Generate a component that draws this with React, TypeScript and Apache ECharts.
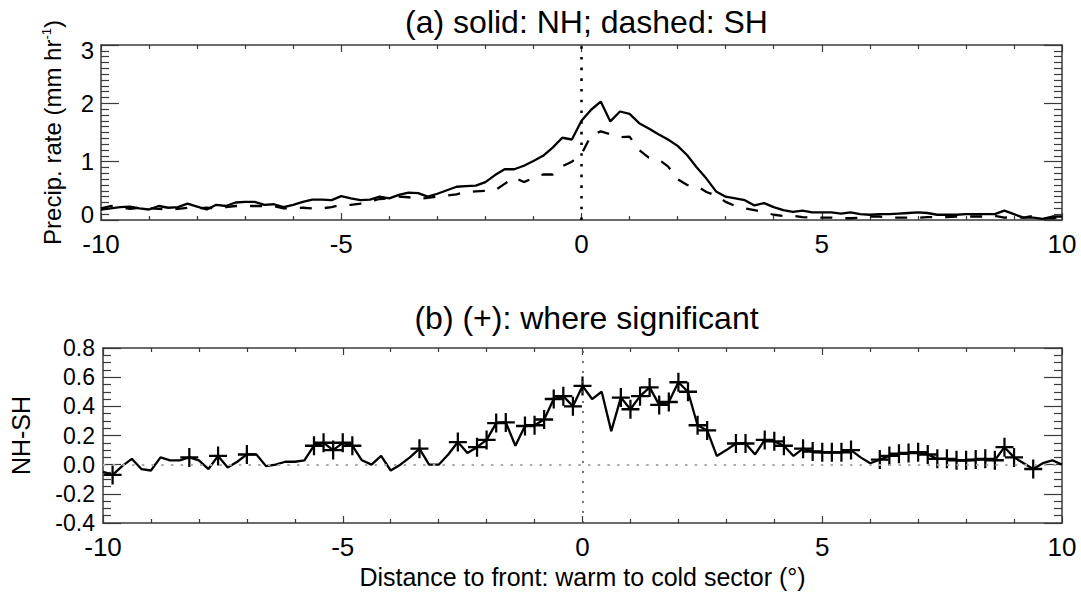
import React, { useEffect, useRef } from "react";
import * as echarts from "echarts";

// Distance to front (degrees), bins every 0.2
const distance = [
  -10, -9.8, -9.6, -9.4, -9.2, -9, -8.8, -8.6, -8.4, -8.2,
  -8, -7.8, -7.6, -7.4, -7.2, -7, -6.8, -6.6, -6.4, -6.2,
  -6, -5.8, -5.6, -5.4, -5.2, -5, -4.8, -4.6, -4.4, -4.2,
  -4, -3.8, -3.6, -3.4, -3.2, -3, -2.8, -2.6, -2.4, -2.2,
  -2, -1.8, -1.6, -1.4, -1.2, -1, -0.8, -0.6, -0.4, -0.2,
  0, 0.2, 0.4, 0.6, 0.8, 1, 1.2, 1.4, 1.6, 1.8,
  2, 2.2, 2.4, 2.6, 2.8, 3, 3.2, 3.4, 3.6, 3.8,
  4, 4.2, 4.4, 4.6, 4.8, 5, 5.2, 5.4, 5.6, 5.8,
  6, 6.2, 6.4, 6.6, 6.8, 7, 7.2, 7.4, 7.6, 7.8,
  8, 8.2, 8.4, 8.6, 8.8, 9, 9.2, 9.4, 9.6, 9.8,
  10,
];

// Precip. rate, NH (solid)
const nhRate = [
  0.18, 0.2, 0.22, 0.23, 0.2, 0.18, 0.24, 0.21, 0.22, 0.28,
  0.23, 0.18, 0.26, 0.24, 0.3, 0.31, 0.31, 0.26, 0.27, 0.22,
  0.26, 0.31, 0.35, 0.35, 0.34, 0.41, 0.37, 0.34, 0.35, 0.4,
  0.37, 0.43, 0.47, 0.46, 0.4, 0.45, 0.51, 0.57, 0.58, 0.59,
  0.65, 0.77, 0.87, 0.87, 0.93, 1.01, 1.1, 1.24, 1.41, 1.38,
  1.7, 1.89, 2.03, 1.69, 1.86, 1.82, 1.66, 1.57, 1.47, 1.38,
  1.27, 1.11, 0.9, 0.71, 0.49, 0.4, 0.37, 0.34, 0.25, 0.29,
  0.22, 0.17, 0.14, 0.16, 0.13, 0.13, 0.13, 0.11, 0.13, 0.1,
  0.09, 0.1, 0.1, 0.11, 0.12, 0.13, 0.12, 0.09, 0.09, 0.09,
  0.1, 0.1, 0.1, 0.1, 0.16, 0.1, 0.04, 0.04, 0.02, 0.06,
  0.06,
];

// Precip. rate, SH (dashed)
const shRate = [
  0.2, 0.24, 0.22, 0.19, 0.21, 0.2, 0.19, 0.18, 0.19, 0.21,
  0.2, 0.21, 0.2, 0.22, 0.24, 0.24, 0.24, 0.24, 0.24, 0.2,
  0.2, 0.21, 0.2, 0.2, 0.22, 0.26, 0.26, 0.28, 0.32, 0.36,
  0.37, 0.4, 0.39, 0.36, 0.38, 0.4, 0.42, 0.44, 0.48, 0.49,
  0.5, 0.51, 0.62, 0.73, 0.65, 0.72, 0.78, 0.78, 0.92, 1.0,
  1.13, 1.45, 1.52, 1.47, 1.42, 1.43, 1.2, 1.07, 1.04, 0.92,
  0.7, 0.6, 0.58, 0.48, 0.42, 0.31, 0.24, 0.2, 0.17, 0.13,
  0.09, 0.07, 0.07, 0.05, 0.04, 0.04, 0.04, 0.03, 0.03, 0.04,
  0.06, 0.06, 0.04, 0.04, 0.04, 0.04, 0.05, 0.05, 0.05, 0.06,
  0.06, 0.06, 0.06, 0.07, 0.04, 0.05, 0.04, 0.07, 0.03, 0.03,
  0.05,
];

// NH - SH difference
const nhMinusSh = [
  -0.05, -0.07, -0.01, 0.04, -0.03, -0.04, 0.05, 0.03, 0.03, 0.05,
  0.03, -0.03, 0.06, -0.02, 0.02, 0.07, 0.07, -0.01, 0.0, 0.02,
  0.02, 0.03, 0.13, 0.15, 0.1, 0.15, 0.13, 0.03, 0.0, 0.06,
  -0.04, 0.0, 0.05, 0.11, 0.0, 0.0, 0.07, 0.155, 0.08, 0.12,
  0.17, 0.285, 0.29, 0.13, 0.265, 0.27, 0.31, 0.45, 0.47, 0.4,
  0.54, 0.45, 0.5, 0.23, 0.46, 0.38, 0.47, 0.53, 0.41, 0.43,
  0.565, 0.5, 0.27, 0.235, 0.06, 0.1, 0.145, 0.145, 0.07, 0.17,
  0.16, 0.13, 0.06, 0.11, 0.09, 0.085, 0.085, 0.085, 0.1, 0.05,
  0.01, 0.035, 0.06, 0.075, 0.08, 0.085, 0.07, 0.04, 0.04, 0.03,
  0.03, 0.035, 0.04, 0.03, 0.12, 0.05, 0.01, -0.03, 0.01, 0.03,
  0.0,
];

// Bins where the difference is significant (+)
const significantAt = [
  -9.8, -8.2, -7.6, -7, -5.6, -5.4, -5.2, -5, -4.8, -3.4,
  -2.6, -2.2, -2, -1.8, -1.6, -1.2, -1, -0.8, -0.6, -0.4,
  -0.2, 0, 0.8, 1, 1.2, 1.4, 1.6, 1.8, 2, 2.2,
  2.4, 2.6, 3.2, 3.4, 3.8, 4, 4.2, 4.6, 4.8, 5,
  5.2, 5.4, 5.6, 6.2, 6.4, 6.6, 6.8, 7, 7.2, 7.4,
  7.6, 7.8, 8, 8.2, 8.4, 8.6, 8.8, 9, 9.4,
];

const titleA = "(a) solid: NH; dashed: SH";
const titleB = "(b) (+): where significant";
const xName = "Distance to front: warm to cold sector (°)";

const FONT = "'Liberation Sans', Arial, Helvetica, sans-serif";
const AX = "#3a3a3a";

function frameAxis(extra: any) {
  return {
    type: "value",
    axisLine: { show: true, onZero: false, lineStyle: { color: AX, width: 1.5 } },
    axisTick: { show: true, inside: true, lineStyle: { color: AX, width: 1.2 } },
    minorTick: { show: true, lineStyle: { color: AX, width: 1.2 } },
    splitLine: { show: false },
    minorSplitLine: { show: false },
    ...extra,
  };
}

export default function App() {
  const ref = useRef<HTMLDivElement>(null);

  useEffect(() => {
    if (!ref.current) return;
    const chart = echarts.init(ref.current, null, { renderer: "svg" });

    const nhData = distance.map((x, i) => [x, nhRate[i]]);
    const shData = distance.map((x, i) => [x, shRate[i]]);
    const diffData = distance.map((x, i) => [x, nhMinusSh[i]]);
    const sigData = significantAt.map((x) => {
      const i = distance.findIndex((d) => Math.abs(d - x) < 1e-6);
      return [x, nhMinusSh[i]];
    });

    const xTick = { show: true, inside: true, length: 7, lineStyle: { color: AX, width: 1.2 } };
    const xMinor = { show: true, splitNumber: 5, length: 4, lineStyle: { color: AX, width: 1.2 } };
    const xLabel = { show: true, fontSize: 26, color: "#000", fontFamily: FONT, margin: 11 };
    const yTick = { show: true, inside: true, length: 18, lineStyle: { color: AX, width: 1.2 } };

    const option: any = {
      animation: false,
      backgroundColor: "#fff",
      textStyle: { fontFamily: FONT },
      title: [
        {
          text: titleA,
          left: 581.5,
          top: 1,
          textAlign: "center",
          textStyle: { fontSize: 32, fontWeight: "normal", color: "#000", fontFamily: FONT },
        },
        {
          text: titleB,
          left: 581.5,
          top: 297,
          textAlign: "center",
          textStyle: { fontSize: 32, fontWeight: "normal", color: "#000", fontFamily: FONT },
        },
      ],
      grid: [
        { left: 101, top: 45, width: 961, height: 175 },
        { left: 101, top: 348, width: 961, height: 175 },
      ],
      xAxis: [
        frameAxis({
          gridIndex: 0, position: "bottom", min: -10, max: 10, interval: 5,
          axisTick: xTick, minorTick: xMinor, axisLabel: xLabel,
        }),
        frameAxis({
          gridIndex: 0, position: "top", min: -10, max: 10, interval: 5,
          axisTick: xTick, minorTick: xMinor, axisLabel: { show: false },
        }),
        frameAxis({
          gridIndex: 1, position: "bottom", min: -10, max: 10, interval: 5,
          axisTick: xTick, minorTick: xMinor, axisLabel: xLabel,
          name: xName,
          nameLocation: "middle",
          nameGap: 41,
          nameTextStyle: { fontSize: 25, color: "#000", fontFamily: FONT },
        }),
        frameAxis({
          gridIndex: 1, position: "top", min: -10, max: 10, interval: 5,
          axisTick: xTick, minorTick: xMinor, axisLabel: { show: false },
        }),
      ],
      yAxis: [
        frameAxis({
          gridIndex: 0, position: "left", min: 0, max: 3, interval: 1,
          axisTick: yTick,
          minorTick: { show: true, splitNumber: 10, length: 8, lineStyle: { color: AX, width: 1.2 } },
          axisLabel: {
            show: true,
            fontSize: 24,
            color: "#000",
            fontFamily: FONT,
            margin: 7,
            formatter: (v: number) => (v === 0 ? "{lo|0}" : v === 3 ? "{hi|3}" : String(v)),
            rich: {
              lo: { fontSize: 24, color: "#000", fontFamily: FONT, padding: [0, 0, 12, 0] },
              hi: { fontSize: 24, color: "#000", fontFamily: FONT, padding: [10, 0, 0, 0] },
            },
          },
          name: "{n|Precip. rate (mm hr}{s|-1}{n|)}",
          nameLocation: "middle",
          nameGap: 37,
          nameTextStyle: {
            color: "#000",
            fontFamily: FONT,
            fontSize: 24,
            rich: {
              n: { fontSize: 24, color: "#000", fontFamily: FONT },
              s: { fontSize: 13, color: "#000", fontFamily: FONT, verticalAlign: "top" },
            },
          },
        }),
        frameAxis({
          gridIndex: 0, position: "right", min: 0, max: 3, interval: 1,
          axisTick: yTick,
          minorTick: { show: true, splitNumber: 10, length: 8, lineStyle: { color: AX, width: 1.2 } },
          axisLabel: { show: false },
        }),
        frameAxis({
          gridIndex: 1, position: "left", min: -0.4, max: 0.8, interval: 0.2,
          axisTick: yTick,
          minorTick: { show: true, splitNumber: 4, length: 8, lineStyle: { color: AX, width: 1.2 } },
          axisLabel: {
            show: true,
            fontSize: 23,
            color: "#000",
            fontFamily: FONT,
            margin: 8,
            formatter: (v: number) => v.toFixed(1),
          },
          name: "NH-SH",
          nameLocation: "middle",
          nameGap: 70,
          nameTextStyle: { fontSize: 25, color: "#000", fontFamily: FONT },
        }),
        frameAxis({
          gridIndex: 1, position: "right", min: -0.4, max: 0.8, interval: 0.2,
          axisTick: yTick,
          minorTick: { show: true, splitNumber: 4, length: 8, lineStyle: { color: AX, width: 1.2 } },
          axisLabel: { show: false },
        }),
      ],
      series: [
        {
          name: "NH",
          type: "line",
          xAxisIndex: 0,
          yAxisIndex: 0,
          data: nhData,
          symbol: "none",
          lineStyle: { color: "#000", width: 2.3 },
          z: 3,
          markLine: {
            silent: true,
            symbol: "none",
            label: { show: false },
            lineStyle: { color: "#000", width: 2.6, type: [2.6, 8.1] },
            data: [{ xAxis: 0 }],
          },
        },
        {
          name: "SH",
          type: "line",
          xAxisIndex: 0,
          yAxisIndex: 0,
          data: shData,
          symbol: "none",
          lineStyle: { color: "#000", width: 2.3, type: [12, 13] },
          z: 3,
        },
        {
          name: "NH-SH",
          type: "line",
          xAxisIndex: 2,
          yAxisIndex: 2,
          data: diffData,
          symbol: "none",
          lineStyle: { color: "#000", width: 2.3 },
          z: 3,
          markLine: {
            silent: true,
            symbol: "none",
            label: { show: false },
            data: [
              { xAxis: 0, lineStyle: { color: "#555", width: 1.6, type: [2, 8] } },
              { yAxis: 0, lineStyle: { color: "#aaa", width: 2, type: [2.5, 7.2] } },
            ],
          },
        },
        {
          name: "significant",
          type: "scatter",
          xAxisIndex: 2,
          yAxisIndex: 2,
          data: sigData,
          symbol: "path://M10,0L10,20M0,10L20,10",
          symbolSize: [18, 19],
          itemStyle: { color: "none", borderColor: "#000", borderWidth: 2.3, opacity: 1 },
          z: 4,
        },
      ],
    };

    chart.setOption(option);
    return () => chart.dispose();
  }, []);

  return (
    <div
      ref={ref}
      style={{ position: "absolute", left: 0, top: 0, width: 1081, height: 594, background: "#fff" }}
    />
  );
}
